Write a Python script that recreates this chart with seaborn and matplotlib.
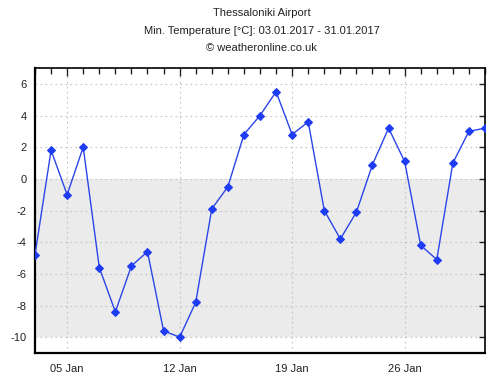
import pandas as pd
import seaborn as sns
import matplotlib.pyplot as plt
import matplotlib.dates as mdates

# daily minimum temperatures, Thessaloniki Airport, Jan 2017
dates = pd.date_range("2017-01-03", "2017-01-31", freq="D")
temps = [-4.8, 1.8, -1.0, 2.0, -5.6, -8.4, -5.5, -4.6, -9.6, -10.0,
         -7.8, -1.9, -0.5, 2.8, 4.0, 5.5, 2.8, 3.6, -2.0, -3.8,
         -2.1, 0.9, 3.2, 1.1, -4.2, -5.1, 1.0, 3.0, 3.2]
yticks = [-10, -8, -6, -4, -2, 0, 2, 4, 6]
title_lines = ["Thessaloniki Airport",
               "Min. Temperature [°C]: 03.01.2017 - 31.01.2017",
               "© weatheronline.co.uk"]

df = pd.DataFrame({"date": dates, "temp": temps})

sns.set_style("white")
plt.rcParams["font.family"] = ["Liberation Sans", "DejaVu Sans"]
plt.rcParams["axes.unicode_minus"] = False

fig = plt.figure(figsize=(5.03, 3.83), dpi=100)
ax = fig.add_axes([35 / 503, 1 - 353 / 383, 450 / 503, 285 / 383])

# grey band below freezing
ax.axhspan(-10, 0, color="#ebebeb", zorder=0, lw=0)

sns.lineplot(data=df, x="date", y="temp", ax=ax, color="#2b45e8", lw=1,
             marker="D", markersize=4, markeredgecolor="#1f3cf5",
             markerfacecolor="#1f3cf5", zorder=3)

ax.set_xlim(dates[0], dates[-1])
ax.set_ylim(-11, 7)
ax.set_yticks(yticks)
ax.xaxis.set_major_locator(mdates.DayLocator(bymonthday=[5, 12, 19, 26]))
ax.xaxis.set_minor_locator(mdates.DayLocator())
ax.xaxis.set_major_formatter(mdates.DateFormatter("%d %b"))
ax.set_xlabel("")
ax.set_ylabel("")

ax.grid(True, which="major", color="#c4c4c4", linestyle=(0, (1.5, 3)), lw=0.8)
ax.tick_params(axis="both", which="both", direction="in", top=True,
               right=True, labelsize=8, colors="#222222")
ax.tick_params(axis="x", which="major", length=6, width=1, pad=8)
ax.tick_params(axis="x", which="minor", length=4, width=1)
ax.tick_params(axis="y", which="major", length=4, width=1, pad=6)
ax.tick_params(axis="y", labelright=False)

for side in ["left", "bottom"]:
    ax.spines[side].set_linewidth(1.6)
for side in ["top", "right"]:
    ax.spines[side].set_linewidth(1.2)
for sp in ax.spines.values():
    sp.set_color("black")

for i, txt in enumerate(title_lines):
    fig.text(0.52, 1 - (13 + 17.5 * i) / 383, txt, ha="center", va="center",
             fontsize=8, color="#222222")

fig.savefig("out.png", dpi=100)
